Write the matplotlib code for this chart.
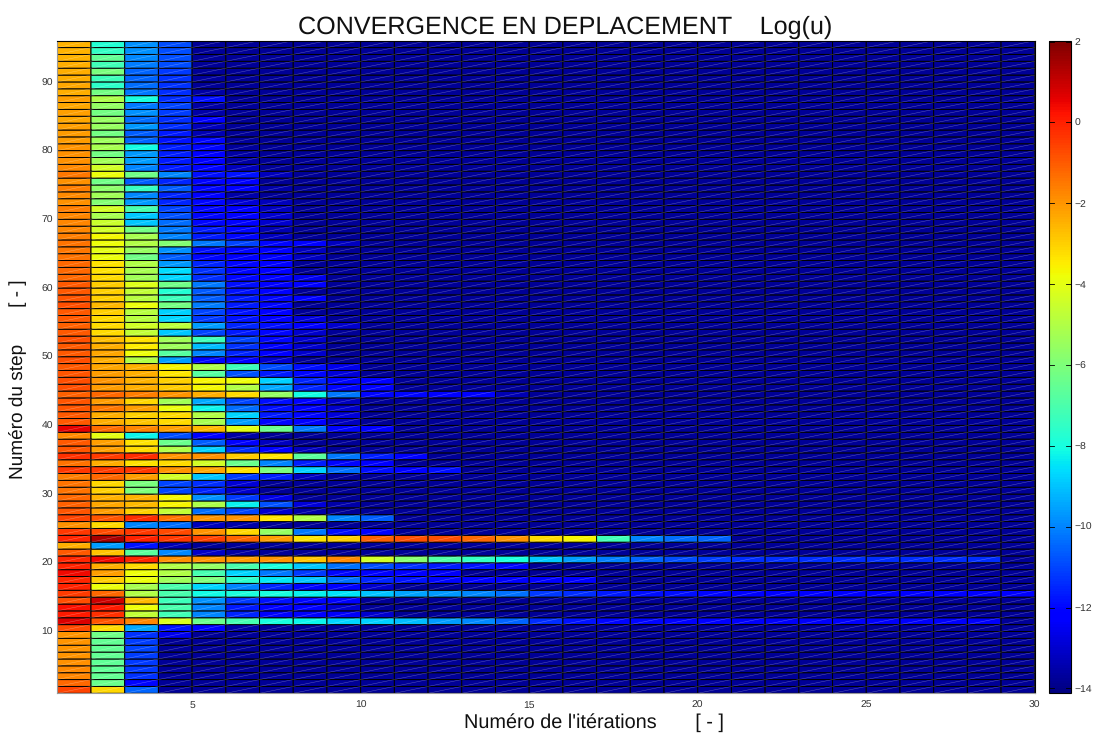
import numpy as np
import matplotlib
matplotlib.use("Agg")
import matplotlib.pyplot as plt
from matplotlib.collections import LineCollection

plt.rcParams['font.family'] = ['Liberation Sans', 'DejaVu Sans']
plt.rcParams['text.hinting'] = 'no_hinting'

# Log(u) per step (bottom to top) and iteration, cells not listed stay at background
background = -13.8
n_iter = 29

rows_01_12 = [
    [-0.6, -3.1, -10.5],
    [-1.2, -6.4, -12],
    [-1.7, -6.5, -11.3],
    [-1.8, -6.6, -11.2],
    [-1.9, -6.6, -11.2],
    [-2.0, -6.5, -11.1],
    [-2.0, -6.5, -11.0],
    [-2.0, -6.5, -11.1],
    [-2.0, -6.3, -11.3, -12.6],
    [-0.7, -3.2, -9.4, -11.8, -12.3, -13.6],
    [0.7, -0.9, -1.7, -4.2, -6.4, -7.1, -8.0, -8.2, -8.7, -8.8, -9.1, -9.6, -9.9, -10.5, -11.4, -11.8, -12, -12, -12.2, -12.2, -12.4, -12.4, -12.4, -12.4, -12.4, -12.4, -12.4, -12.4],
    [0.1, -0.3, -4.7, -7.2, -10, -11.5, -12.1, -12.3, -12.4, -13],
]
rows_13_24 = [
    [0.3, 0.1, -3.8, -7, -10, -11.7, -12.1, -12.3, -13],
    [-0.8, 0.9, -2.6, -7.3, -9.8, -11.2, -11.8, -12, -12.1],
    [-0.5, -1.2, -5, -7, -8.1, -7.9, -8, -8.3, -8.5, -9, -9.5, -9.7, -9.9, -10.3, -11.2, -11.4, -11.7, -11.9, -11.9, -12, -12.1, -12.2, -12.2, -12.2, -12.2, -12.2, -12.2, -12.2, -12.2],
    [0, -3.9, -5.2, -7, -8.7, -10, -11.5, -12, -12.3, -13],
    [-0.1, -2.9, -3.9, -5.4, -6, -7.6, -8.4, -9.0, -10.3, -11.5, -11.8, -12, -12.1, -12.1, -12.2, -12.2],
    [0.4, -2.2, -3.8, -5, -7.1, -8.7, -10.2, -11.2, -12, -12.1, -12.3, -12.4],
    [0, -2.4, -3.2, -5, -5.6, -7, -8, -8.9, -10.3, -10.9, -11.4, -11.7, -11.8, -12],
    [-0.1, 0.4, -0.1, -1.9, -2, -2.1, -2, -2.8, -1.8, -4.4, -5.8, -6.9, -7.5, -8, -8.9, -9.6, -10.1, -10.5, -10.9, -11.1, -11.4, -11.4, -11.4, -11.4, -11.4, -11.4, -11.4, -11.4],
    [-1, -2.8, -6.7, -9.9, -13.1, -13.6],
    [-2.4, -9.6, -11.8, -13.4],
    [-0.1, 1.4, 0, -0.4, -0.6, -1.2, -2.2, -3.4, -3, -1.1, -0.8, -0.8, -1.2, -2, -3.2, -3.6, -7.2, -10, -10.4, -10.5],
    [-0.4, -0.7, -0.4, -0.7, -2, -3.1, -5.6, -10.2, -11.9, -12.3],
]
rows_25_36 = [
    [-1.9, -3.2, -10, -10.4, -13.3, -13.5],
    [-0.6, -0.9, -0.2, -1.4, -2, -2, -3.4, -5, -9.9, -10.6],
    [-0.9, -2.1, -3, -4.7, -10.4, -11, -13, -13.5],
    [-1.1, -2.3, -2.6, -3.6, -5.1, -8.3, -10.8, -12.8, -13.5],
    [-1.2, -2.5, -2.5, -3.7, -9.8, -11.2, -12.7],
    [-1.4, -3, -6, -11, -11.5, -13],
    [-1.4, -3.1, -6.1, -11, -11.4, -12.9],
    [-1.6, -1.2, -2.2, -4.4, -9, -11.2, -11.6, -13.2],
    [-0.4, -0.5, -0.4, -2, -2.3, -3.3, -6.1, -8.8, -10.3, -11.9, -12.1, -11.9],
    [-1.4, -2.4, -3.3, -3.2, -4.4, -6.4, -10, -11.6, -12, -12.2],
    [-0.3, -0.5, -0.2, -2.0, -1.9, -2.9, -3.4, -6.7, -10.2, -11.6, -12.1],
    [-0.9, -2.2, -3.2, -5, -8.8, -11.4, -12.1, -13.3],
]
rows_37_48 = [
    [-1, -2.2, -3.3, -6.4, -10.6, -12.1, -13.2],
    [-1.8, -4, -8.2, -10.9, -12.2, -13.6],
    [0.6, -1.3, -1.7, -2.2, -2.6, -4, -6.4, -10.2, -12, -12.2],
    [-1, -2.4, -2.8, -3.2, -5.2, -9.6, -12, -12.2, -13.2],
    [-1, -2.4, -3, -3.2, -5, -8.7, -11.7, -12, -12.8],
    [-0.9, -1.5, -2.2, -3.9, -8.2, -10.4, -11.9, -12.1, -13],
    [-0.9, -2.1, -3.1, -5.3, -9.4, -11, -11.9, -12.2, -13.2],
    [-1.1, -1.2, -1.6, -2, -2.4, -3.2, -5.6, -8.1, -10.2, -12, -12, -12.1, -12.1, -13.4],
    [-0.8, -2.1, -2.4, -2.9, -3.7, -5, -9.4, -11.5, -12, -12.2],
    [-0.8, -2, -2.5, -3, -3.6, -3.8, -8.8, -11.5, -12, -12.2],
    [-0.9, -2.1, -2.4, -3.4, -6.8, -10.8, -11.7, -12, -12.8],
    [-1, -2.3, -2.5, -3.6, -5.1, -7.3, -10.9, -11.9, -12.6],
]
rows_49_60 = [
    [-0.8, -2.4, -5, -9.6, -12, -12.1, -13],
    [-1, -2.3, -3.8, -6.8, -10, -11.5, -12.2, -13],
    [-1, -2.4, -3.5, -5.4, -9.1, -11.3, -12.1, -13],
    [-0.8, -2.7, -3.3, -5.3, -7.3, -11, -12, -13],
    [-1, -3.2, -4.7, -8.9, -11, -11.7, -12, -13],
    [-1.1, -3.2, -4.4, -4.8, -9.6, -11.5, -11.9, -12.2, -13],
    [-1, -3.2, -4.9, -8.7, -11.2, -11.8, -12.2, -12.8],
    [-1, -3, -4.9, -8.8, -11, -11.8, -12.2],
    [-0.8, -2.6, -3.9, -6.2, -10.1, -11.7, -12],
    [-0.9, -3, -4.9, -7.3, -10.6, -11.7, -12, -12.1],
    [-1, -3, -4.7, -7.8, -10.7, -11.8, -12.1],
    [-1, -2.9, -4.1, -6.3, -10.2, -11.9, -12.2, -12.3],
]
rows_61_72 = [
    [-1.2, -3.2, -5.3, -8.7, -11.4, -12, -12.3, -12.6],
    [-1.2, -3.3, -5.2, -8.6, -11.3, -12, -12.3],
    [-1.2, -3.3, -5, -9.7, -11.5, -12, -12.3],
    [-1.4, -3.9, -6.3, -10.6, -12, -12.2, -12.3, -13.2],
    [-1.5, -4, -5.5, -9.8, -11.9, -12, -12.3, -13.2],
    [-1.4, -3.8, -5, -5.9, -10.2, -11, -12, -12.1, -13.2],
    [-1.6, -3.7, -5.2, -10, -11.7, -12, -13.2],
    [-1.7, -4.4, -6.2, -10.2, -11.7, -12, -13.4],
    [-1.7, -4.5, -9, -10.4, -12, -12.1, -13],
    [-1.7, -5.2, -8.9, -10.8, -12, -12.1, -13],
    [-1.6, -4.3, -7, -11, -12, -12.3, -13.2],
    [-1.9, -5.9, -9.7, -11.5, -12, -12.9, -13.3],
]
rows_73_84 = [
    [-1.8, -5.3, -9.9, -11.5, -12.2, -13.5],
    [-1.6, -5.7, -7.4, -10.6, -12, -12.2, -13.5],
    [-1.9, -6.3, -10.6, -11.5, -12.1, -12.3],
    [-1.5, -3.9, -6.3, -9.9, -11.9, -11.8, -13.3],
    [-1.8, -4.4, -10, -11.7, -12.1, -13.3],
    [-1.9, -5.3, -9.6, -11.7, -12.2, -13.6],
    [-1.9, -6.2, -9.7, -11.6, -12.2, -13.6],
    [-2, -5.2, -8.1, -11.6, -12, -13.7],
    [-2.1, -5.4, -10.5, -11.8, -12, -13.7],
    [-2.1, -6.2, -10.6, -11.7, -13.4],
    [-2.2, -5.5, -9.7, -11.4, -13.3],
    [-2.3, -5.5, -10.4, -11.4, -12.2],
]
rows_85_95 = [
    [-2.2, -6.2, -9.8, -11.1, -13.5],
    [-2.3, -5.6, -10.2, -11, -13.6],
    [-2.2, -5.1, -8, -11.4, -11.9],
    [-2.4, -6.2, -10.2, -11.4, -13.6],
    [-2.3, -7.6, -10.4, -11.3],
    [-2.4, -7.3, -10.5, -11.3, -13.7],
    [-2.4, -6.1, -10.5, -11.2],
    [-2.4, -7.2, -10.1, -10.9],
    [-2.5, -6.5, -9.9, -10.9],
    [-2.5, -7.5, -9.8, -10.9],
    [-2.5, -7.8, -9.8, -10.9],
]

all_rows = rows_01_12 + rows_13_24 + rows_25_36 + rows_37_48 + rows_49_60 + rows_61_72 + rows_73_84 + rows_85_95

logu = np.full((len(all_rows), n_iter), background)
for i, r in enumerate(all_rows):
    logu[i, :len(r)] = r

x_edges = np.arange(1, n_iter + 2)
y_edges = np.arange(1, len(all_rows) + 2)

W, H = 1094, 736
fig = plt.figure(figsize=(W / 100, H / 100), dpi=100)
ax = fig.add_axes([57.3 / W, 1 - 693.3 / H, (1034.8 - 57.3) / W, (693.3 - 40.7) / H])
cax = fig.add_axes([1049.3 / W, 1 - 693.3 / H, 21.4 / W, (693.3 - 40.7) / H])

mesh = ax.pcolormesh(x_edges, y_edges, logu, cmap='jet', vmin=-14.12, vmax=2.02,
                     edgecolors='black', linewidth=0.7, antialiased=True)
mesh.set_snap(False)

# seam of the two triangles in every cell, goes across from lower left to upper right
segs = [[(x, y), (x + 1, y + 1)] for x in x_edges[:-1] for y in y_edges[:-1]]
seams = LineCollection(segs, colors='white', linewidths=0.35, alpha=0.35)
seams.set_snap(False)
ax.add_collection(seams)

ax.set_xlim(1, 30)
ax.set_ylim(1, 96)
ax.set_xticks(np.arange(5, 31, 5))
ax.set_yticks(np.arange(10, 91, 10))
ax.tick_params(length=0, labelsize=7.5, labelcolor='#333333')
ax.tick_params(axis='y', pad=3)
ax.tick_params(axis='x', pad=5)
for s in ['top', 'right']:
    ax.spines[s].set_color('black')
    ax.spines[s].set_linewidth(0.8)
for s in ['left', 'bottom']:
    ax.spines[s].set_color('#999999')
    ax.spines[s].set_linewidth(0.8)

fig.text(298 / W, 1 - 34 / H, "CONVERGENCE EN DEPLACEMENT    Log(u)", fontsize=18.1,
         color='#111111', ha='left', va='baseline')
fig.text(464 / W, 1 - 728 / H, "Numéro de l'itérations       [ - ]", fontsize=14.3,
         color='#111111', ha='left', va='baseline')
fig.text(18 / W, 1 - 379 / H, "Numéro du step       [ - ]", fontsize=13.7, color='#111111',
         rotation=90, ha='center', va='center')

cb = fig.colorbar(mesh, cax=cax)
cb.set_ticks(np.arange(-14, 3, 2))
cb.outline.set_linewidth(0.8)
cax.tick_params(labelsize=7.5, labelcolor='#333333', length=0, pad=3)
for t in np.arange(-14, 3, 2):
    cax.plot([0, 0.2], [t, t], color='black', lw=0.6, transform=cax.get_yaxis_transform())
    cax.plot([0.8, 1], [t, t], color='black', lw=0.6, transform=cax.get_yaxis_transform())

fig.savefig('out.png', dpi=100)
